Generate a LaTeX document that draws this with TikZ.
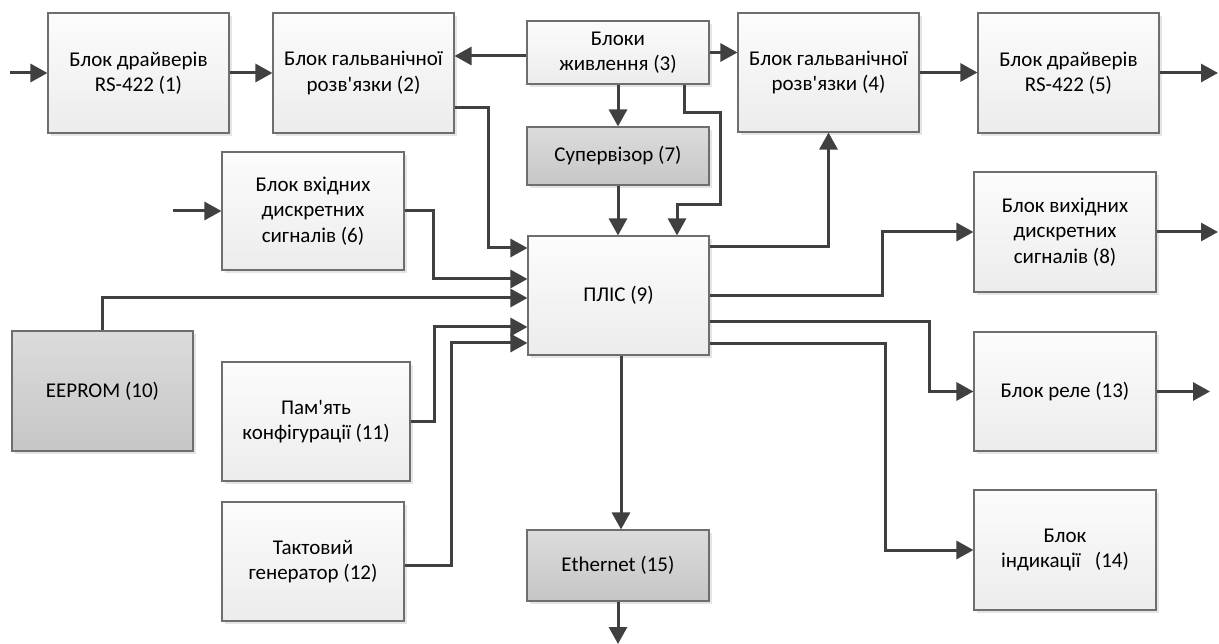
\documentclass[tikz,border=0pt]{standalone}
\usepackage{fontspec}
\setmainfont{Carlito}[Ligatures=TeXOff]
\usetikzlibrary{arrows.meta,shadows}
\definecolor{wire}{HTML}{404040}
\definecolor{edge}{HTML}{6E6E6E}
\definecolor{lighttop}{HTML}{FCFCFC}
\definecolor{lightbot}{HTML}{ECECEC}
\definecolor{darktop}{HTML}{DCDCDC}
\definecolor{darkbot}{HTML}{C6C6C6}
\tikzset{
  blk/.style={draw=edge, line width=1.1pt, rectangle, align=center,
    top color=lighttop, bottom color=lightbot,
    drop shadow={shadow xshift=3pt, shadow yshift=-3pt, fill=black!10, opacity=1},
    font=\fontsize{21}{25.5}\selectfont, inner sep=0pt},
  dblk/.style={blk, top color=darktop, bottom color=darkbot},
  arr/.style={draw=wire, line width=3pt,
    -{Triangle[length=17pt,width=18pt]}},
}
\begin{document}
\begin{tikzpicture}[x=1pt,y=-1pt]
\useasboundingbox (0,0) rectangle (1219,644);

% blocks
\node[blk, minimum width=181pt, minimum height=120pt] (b1) at (138.5,73) {Блок драйверів\\RS-422 (1)};
\node[blk, minimum width=181pt, minimum height=120pt] (b2) at (363.5,73) {Блок гальванічної\\розв'язки (2)};
\node[blk, minimum width=182pt, minimum height=63pt] (b3) at (618,52.5) {Блоки\\живлення (3)};
\node[blk, minimum width=181pt, minimum height=119pt] (b4) at (828.5,72.5) {Блок гальванічної\\розв'язки (4)};
\node[blk, minimum width=181pt, minimum height=120pt] (b5) at (1068.5,73) {Блок драйверів\\RS-422 (5)};
\node[dblk, minimum width=182pt, minimum height=58pt] (b7) at (618,156) {Супервізор (7)};
\node[blk, minimum width=182pt, minimum height=118pt] (b6) at (313,211) {Блок вхідних\\дискретних\\ сигналів (6)};
\node[blk, minimum width=181pt, minimum height=119pt] (b9) at (618.5,295.5) {ПЛІС (9)};
\node[blk, minimum width=182pt, minimum height=120pt] (b8) at (1065,232) {Блок вихідних\\дискретних\\ сигналів (8)};
\node[dblk, minimum width=181pt, minimum height=120pt] (b10) at (102.5,391) {EEPROM (10)};
\node[blk, minimum width=188pt, minimum height=119pt] (b11) at (316,421.5) {Пам'ять\\конфігурації (11)};
\node[blk, minimum width=182pt, minimum height=119pt] (b12) at (313,561.5) {Тактовий\\генератор (12)};
\node[blk, minimum width=182pt, minimum height=119pt] (b13) at (1065,391.5) {Блок реле (13)};
\node[blk, minimum width=182pt, minimum height=120pt] (b14) at (1065,550) {Блок\\індикації\ \ \ (14)};
\node[dblk, minimum width=182pt, minimum height=71pt] (b15) at (618,565.5) {Ethernet (15)};

% free ends
\coordinate (in1) at (10,73);
\coordinate (in6) at (173,211);
\coordinate (out5) at (1218,73);
\coordinate (out8) at (1218,232);
\coordinate (out13) at (1210,391.5);
\coordinate (out15) at (618,644);

% top row
\draw[arr] (in1) -- (b1.west);
\draw[arr] (b1.east) -- (b2.west);
\draw[arr] ([yshift=-3.5pt]b3.west) -- ([yshift=-3.5pt]b3.west -| b2.east);
\draw[arr] (b3.east) -- (b3.east -| b4.west);
\draw[arr] (b4.east) -- (b4.east -| b5.west);
\draw[arr] (b5.east) -- (out5);

% power and supervisor into the FPGA
\draw[arr] (b3.south) -- (b7.north);
\draw[arr] (b7.south) -- (b7.south |- b9.north);
\draw[arr] ([xshift=66pt]b3.south) |- (720,113) |- (677,205) -- ([xshift=58.5pt]b9.north);

% inputs to the FPGA
\draw[arr] ([yshift=-35pt]b2.east) -| ([xshift=-39pt,yshift=47.5pt]b9.west) -- ([yshift=47.5pt]b9.west);
\draw[arr] (in6) -- (b6.west);
\draw[arr] (b6.east) -| ([xshift=-94pt,yshift=16.5pt]b9.west) -- ([yshift=16.5pt]b9.west);
\draw[arr] (b10.north) |- ([yshift=-2.5pt]b9.west);
\draw[arr] (b11.east) -| ([xshift=-93pt,yshift=-31.5pt]b9.west) -- ([yshift=-31.5pt]b9.west);
\draw[arr] ([yshift=-3.5pt]b12.east) -| ([xshift=-76pt,yshift=-47.5pt]b9.west) -- ([yshift=-47.5pt]b9.west);

% outputs of the FPGA
\draw[arr] ([yshift=48.5pt]b9.east) -| (b4.south);
\draw[arr] (b9.east) -| ([xshift=-91pt]b8.west) -- (b8.west);
\draw[arr] ([yshift=-26.5pt]b9.east) -| ([xshift=-44pt]b13.west) -- (b13.west);
\draw[arr] ([yshift=-48.5pt]b9.east) -| ([xshift=-88pt]b14.west) -- (b14.west);
\draw[arr] ([xshift=2.5pt]b9.south) -- ([xshift=2.5pt]b9.south |- b15.north);
\draw[arr] (b15.south) -- (out15);
\draw[arr] (b8.east) -- (out8);
\draw[arr] (b13.east) -- (out13);
\end{tikzpicture}
\end{document}
